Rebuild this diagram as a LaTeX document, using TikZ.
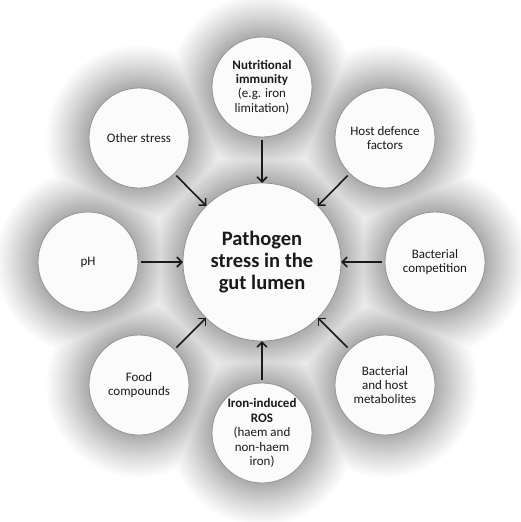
\documentclass[tikz,border=0pt]{standalone}
\usepackage{fontspec}
\setmainfont{Carlito}
\usetikzlibrary{arrows.meta}
\definecolor{txt}{HTML}{1A1A1A}
\definecolor{rim}{HTML}{949494}
\definecolor{disc}{HTML}{FBFBFB}
\tikzset{
 outer/.style={circle, draw=rim, line width=0.8pt, fill=disc, minimum size=100pt, inner sep=0pt, outer sep=0pt, align=center, font=\fontsize{13}{14.4}\selectfont, text=txt},
 hub/.style={circle, draw=rim, line width=0.8pt, fill=disc, minimum size=158pt, inner sep=0pt, outer sep=0pt, align=center, font=\fontsize{20.5}{22}\selectfont\bfseries, text=txt},
 feed/.style={line width=1.6pt, draw=txt, -{Straight Barb[length=5pt,width=10pt]}, shorten <=3pt},
}
\begin{document}
\begin{tikzpicture}[x=1pt,y=-1pt]
\useasboundingbox (0,0) rectangle (520,522);
\fill[white] (0,0) rectangle (520,522);
% soft grey halo: opaque levels drawn from outside in (union of glows)
\foreach \d in {44,43,...,0} {
  \pgfmathsetmacro{\shade}{33*(1-\d/44)^1.1}
  \foreach \px/\py in {262/87,385/138,435/262,385/385,262/433,139/385,88/262,139/138} {
    \fill[black!\shade!white] (\px,\py) circle (50+\d);
  }
  \fill[black!\shade!white] (262,262) circle (79+\d);
}
% nodes
\node[hub] (c) at (262,262) {Pathogen\\stress in the\\gut lumen};
\node[outer] (n) at (262,87) {\textbf{Nutritional}\\\textbf{immunity}\\(e.g. iron\\limitation)};
\node[outer] (ne) at (385,138) {Host defence\\factors};
\node[outer] (e) at (435,262) {Bacterial\\competition};
\node[outer] (se) at (385,385) {Bacterial\\and host\\metabolites};
\node[outer] (s) at (262,433) {\textbf{Iron-induced}\\\textbf{ROS}\\(haem and\\non-haem\\iron)};
\node[outer] (sw) at (139,385) {Food\\compounds};
\node[outer] (w) at (88,262) {pH};
\node[outer] (nw) at (139,138) {Other stress};
% connectors
\foreach \o in {n,ne,e,se,s,sw,w,nw} \draw[feed] (\o) -- (c);
\end{tikzpicture}
\end{document}
